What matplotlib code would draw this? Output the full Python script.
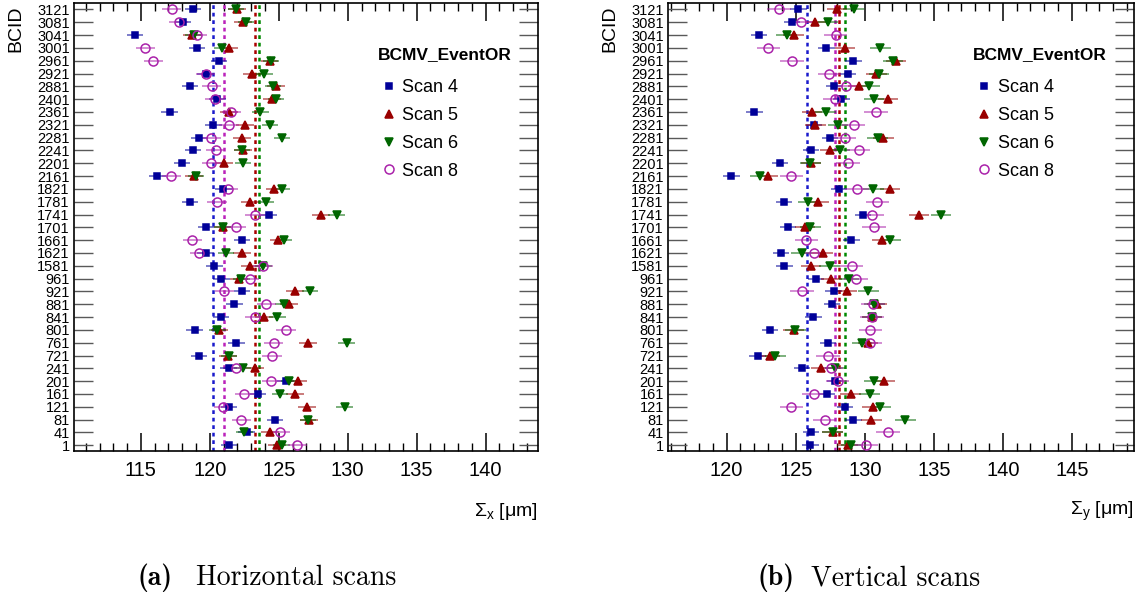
import numpy as np
import matplotlib.pyplot as plt
from matplotlib.lines import Line2D
from matplotlib.ticker import MultipleLocator

plt.rcParams['font.family'] = ['Liberation Sans', 'DejaVu Sans']
plt.rcParams['mathtext.fontset'] = 'custom'
plt.rcParams['mathtext.rm'] = 'Liberation Sans'
plt.rcParams['mathtext.it'] = 'Liberation Sans:italic'

# bunch crossing IDs, bottom row first
bcid = [1, 41, 81, 121, 161, 201, 241, 721, 761, 801, 841, 881, 921, 961,
        1581, 1621, 1661, 1701, 1741, 1781, 1821, 2161, 2201, 2241, 2281,
        2321, 2361, 2401, 2881, 2921, 2961, 3001, 3041, 3081, 3121]

# horizontal scans, Sigma_x [um]
sx_scan4 = [121.38, 122.67, 124.74, 121.40, 123.50, 125.49, 121.36, 119.21, 121.92, 118.90,
            120.80, 121.77, 122.35, 120.84, 120.33, 119.70, 122.35, 119.72, 124.28, 118.55,
            120.99, 116.19, 117.97, 118.77, 119.24, 120.26, 117.09, 120.55, 118.55, 119.70,
            120.67, 119.07, 114.59, 118.07, 118.77]
sx_scan5 = [124.84, 124.35, 127.20, 127.05, 126.15, 126.40, 123.30, 121.31, 127.15, 120.70,
            123.94, 125.74, 126.20, 122.09, 122.89, 122.35, 124.98, 120.92, 128.05, 122.89,
            124.69, 118.87, 121.04, 122.40, 122.35, 122.55, 121.40, 124.50, 124.81, 123.03,
            124.33, 121.36, 118.73, 122.38, 122.00]
sx_scan6 = [125.20, 122.50, 127.12, 129.78, 125.10, 125.74, 122.38, 121.40, 129.93, 120.55,
            124.89, 125.35, 127.27, 122.28, 123.89, 121.16, 125.37, 120.92, 129.20, 124.08,
            125.20, 118.99, 122.40, 122.33, 125.25, 124.37, 123.67, 124.81, 124.57, 123.96,
            124.45, 120.87, 118.82, 122.62, 121.90]
sx_scan8 = [126.35, 125.08, 122.28, 120.97, 122.50, 124.45, 121.89, 124.50, 124.62, 125.52,
            123.25, 124.10, 121.06, 122.89, 123.86, 119.24, 118.73, 121.89, 123.28, 120.53,
            121.33, 117.22, 120.11, 120.43, 120.11, 121.40, 121.57, 120.38, 120.14, 119.70,
            115.90, 115.32, 119.09, 117.75, 117.24]

# vertical scans, Sigma_y [um]
sy_scan4 = [126.05, 126.12, 129.17, 128.56, 127.28, 127.86, 125.44, 122.25, 127.35, 123.14,
            126.27, 127.64, 127.74, 126.46, 124.18, 123.94, 129.02, 124.45, 129.87, 124.14,
            128.13, 120.34, 123.87, 126.10, 127.47, 126.31, 122.00, 128.30, 127.76, 128.78,
            129.17, 127.21, 122.35, 124.72, 125.20]
sy_scan5 = [128.76, 127.67, 130.47, 130.57, 128.97, 131.42, 126.85, 123.14, 130.23, 124.84,
            130.52, 130.89, 128.68, 127.57, 126.10, 126.94, 131.27, 125.68, 133.93, 126.63,
            131.83, 122.98, 126.10, 127.50, 131.34, 126.43, 126.17, 131.68, 129.55, 130.84,
            132.26, 128.56, 124.84, 126.43, 127.98]
sy_scan6 = [129.00, 127.67, 132.94, 131.13, 130.35, 130.67, 127.84, 123.53, 129.80, 124.96,
            130.52, 130.69, 130.26, 128.85, 127.45, 125.44, 131.85, 126.05, 135.53, 125.90,
            130.62, 122.42, 126.05, 128.18, 130.93, 128.06, 127.18, 130.67, 130.33, 131.03,
            132.05, 131.13, 124.35, 127.33, 129.19]
sy_scan8 = [130.11, 131.68, 127.09, 124.69, 126.29, 128.03, 127.55, 127.33, 130.40, 130.40,
            130.52, 130.60, 125.47, 129.36, 129.05, 126.34, 125.78, 130.67, 130.52, 130.91,
            129.43, 124.69, 128.78, 129.55, 128.54, 129.19, 130.81, 127.86, 128.66, 127.43,
            124.74, 123.02, 127.89, 125.39, 123.80]

# scan averages (dotted lines)
avg_x = [120.2, 123.3, 123.6, 121.0]
avg_y = [125.85, 128.1, 128.55, 127.85]

err_x = [0.6, 0.65, 0.6, 0.7]
err_y = [0.6, 0.75, 0.75, 0.85]

scans = ['Scan 4', 'Scan 5', 'Scan 6', 'Scan 8']
colors = ['#000099', '#990000', '#006600', '#aa22aa']
line_colors = ['#1a1acc', '#aa0000', '#008800', '#bb22bb']
markers = ['s', '^', 'v', 'o']
msizes = [5, 6, 6, 6.5]

fig = plt.figure(figsize=(11.37, 5.95), dpi=100)
ax1 = fig.add_axes([74/1137, 144/595, 464/1137, 448/595])
ax2 = fig.add_axes([668/1137, 144/595, 466/1137, 448/595])

y = np.arange(len(bcid))


def draw_panel(ax, series, errs, avgs, xlim, xlabel):
    for vals, e, c, m, ms in zip(series, errs, colors, markers, msizes):
        face = 'none' if m == 'o' else c
        ax.errorbar(vals, y, xerr=e, fmt='none', ecolor=c, elinewidth=1.1,
                    alpha=0.65, capsize=0, zorder=3)
        ax.plot(vals, y, linestyle='none', marker=m, markersize=ms,
                markerfacecolor=face, markeredgecolor=c, markeredgewidth=1.1, zorder=4)
    for a, lc in zip(avgs, line_colors):
        ax.axvline(a, color=lc, linestyle=(0, (1.5, 1.5)), linewidth=1.8, zorder=2)

    ax.set_xlim(*xlim)
    ax.set_ylim(-0.45, 34.5)
    ax.set_yticks(y)
    ax.set_yticklabels([str(b) for b in bcid])
    ax.xaxis.set_major_locator(MultipleLocator(5))
    ax.xaxis.set_minor_locator(MultipleLocator(1))
    ax.tick_params(axis='x', which='major', direction='in', length=13, width=1.1,
                   top=True, bottom=True, labelsize=14.5, pad=7)
    ax.tick_params(axis='x', which='minor', direction='in', length=6, width=1,
                   top=True, bottom=True)
    ax.tick_params(axis='y', which='major', direction='in', length=14, width=1,
                   color='0.35', left=True, right=True, labelsize=10.5, pad=3)
    for s in ax.spines.values():
        s.set_linewidth(1.2)

    ax.text(1.0, -0.134, xlabel, transform=ax.transAxes, ha='right', va='center',
            fontsize=14)
    ax.text(-0.125, 0.995, 'BCID', transform=ax.transAxes, rotation=90,
            ha='center', va='top', fontsize=14)

    # legend: bold title plus marker-only entries
    ax.text(0.655, 0.886, 'BCMV_EventOR', transform=ax.transAxes, ha='left',
            va='center', fontsize=12.5, fontweight='bold')
    handles = [Line2D([], [], linestyle='none', marker=m, markersize=ms,
                      markerfacecolor=('none' if m == 'o' else c),
                      markeredgecolor=c, markeredgewidth=1.1)
               for c, m, ms in zip(colors, markers, msizes)]
    ax.legend(handles, scans, loc='upper left', bbox_to_anchor=(0.655, 0.83),
              frameon=False, borderpad=0, borderaxespad=0, handlelength=1.2,
              handletextpad=0.15, labelspacing=0.6, fontsize=13)


draw_panel(ax1, [sx_scan4, sx_scan5, sx_scan6, sx_scan8], err_x, avg_x,
           (110.15, 143.8), r'$\Sigma_{\mathrm{x}}$ [μm]')
draw_panel(ax2, [sy_scan4, sy_scan5, sy_scan6, sy_scan8], err_y, avg_y,
           (115.75, 149.5), r'$\Sigma_{\mathrm{y}}$ [μm]')

# sub-figure captions
fig.text(138/1137, 1 - 578/595, '(a)', family='cmb10', fontsize=20, va='center')
fig.text(196/1137, 1 - 578/595, 'Horizontal scans', family='cmr10', fontsize=20, va='center')
fig.text(757/1137, 1 - 578/595, '(b)', family='cmb10', fontsize=20, va='center')
fig.text(811/1137, 1 - 578/595, 'Vertical scans', family='cmr10', fontsize=20, va='center')

fig.savefig('out.png', dpi=100)
